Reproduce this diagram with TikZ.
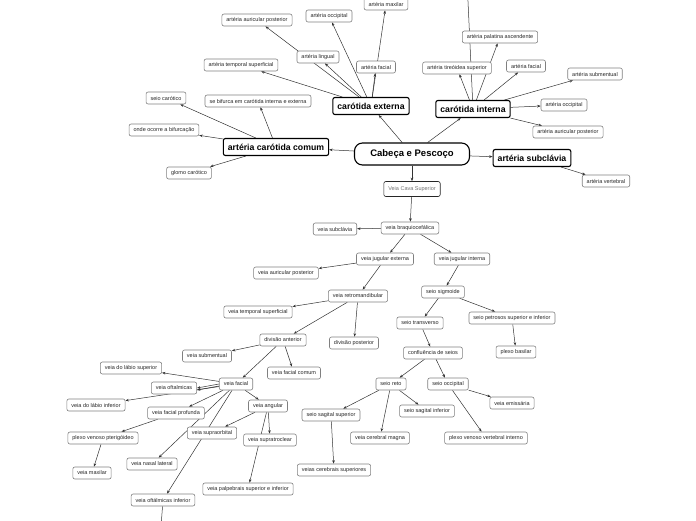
\documentclass[tikz,border=0pt]{standalone}
\usepackage{fontspec}
\setmainfont{Liberation Sans}
\usetikzlibrary{arrows.meta,backgrounds}
\begin{document}
\begin{tikzpicture}[x=1pt,y=-1pt,
  leaf/.style={draw=black!50, line width=0.6pt, rounded corners=2pt, fill=white, text=black!85,
    font=\fontsize{5.5}{6}\selectfont, inner xsep=4.5pt, inner ysep=0pt, minimum height=12pt},
  vcs/.style={leaf, draw=black!85, text=black!55, minimum height=15pt},
  branch/.style={draw=black, line width=1.1pt, rounded corners=2pt, fill=white,
    font=\bfseries\fontsize{8.7}{10}\selectfont, inner xsep=4.5pt, inner ysep=0pt, minimum height=17pt},
  root/.style={branch, rounded corners=8pt, font=\bfseries\fontsize{9.5}{12}\selectfont,
    minimum width=115pt, minimum height=22pt},
  link/.style={draw=black!80, line width=0.5pt, -{Stealth[length=3.5pt,width=2.6pt]}}]
  \useasboundingbox (0,0) rectangle (696,520);
  % main topics
  \node[root] (cab) at (412,154) {Cabeça e Pescoço};
  \node[branch] (ext) at (371,106) {carótida externa};
  \node[branch] (int) at (473,109) {carótida interna};
  \node[branch] (com) at (276,147) {artéria carótida comum};
  \node[branch] (sub) at (532,158) {artéria subclávia};
  % carotida externa
  \node[leaf] (emax) at (386,4) {artéria maxilar};
  \node[leaf] (eocc) at (329,16) {artéria occipital};
  \node[leaf] (eaur) at (257,20) {artéria auricular posterior};
  \node[leaf] (elin) at (318,57) {artéria lingual};
  \node[leaf] (efac) at (376,67) {artéria facial};
  \node[leaf] (etem) at (241,65) {artéria temporal superficial};
  % carotida interna
  \node[leaf] (ipal) at (500,37) {artéria palatina ascendente};
  \node[leaf] (itir) at (457,68) {artéria tireóidea superior};
  \node[leaf] (ifac) at (526,66) {artéria facial};
  \node[leaf] (isbm) at (595,74) {artéria submentual};
  \node[leaf] (iocc) at (564,105) {artéria occipital};
  \node[leaf] (iaur) at (568,132) {artéria auricular posterior};
  \coordinate (itop) at (467,-20);
  % carotida comum
  \node[leaf] (cseio) at (166,98) {seio carótico};
  \node[leaf] (cbif) at (258,101) {se bifurca em carótida interna e externa};
  \node[leaf] (conde) at (164,130) {onde ocorre a bifurcação};
  \node[leaf] (cglo) at (189,173) {glomo carótico};
  % subclavia
  \node[leaf] (svert) at (606,181) {artéria vertebral};
  % veias
  \node[vcs] (vcs) at (412,189) {Veia Cava Superior};
  \node[leaf] (vbra) at (410,228) {veia braquiocefálica};
  \node[leaf] (vsub) at (335,229) {veia subclávia};
  \node[leaf] (vjex) at (385,259) {veia jugular externa};
  \node[leaf] (vjin) at (462,259) {veia jugular interna};
  \node[leaf] (vaur) at (286,273) {veia auricular posterior};
  \node[leaf] (vret) at (358,296) {veia retromandibular};
  \node[leaf] (vtem) at (258,312) {veia temporal superficial};
  \node[leaf] (vdan) at (283,340) {divisão anterior};
  \node[leaf] (vdpo) at (354,343) {divisão posterior};
  \node[leaf] (vsbm) at (207,356) {veia submentual};
  \node[leaf] (vfco) at (294,373) {veia facial comum};
  \node[leaf] (vfac) at (236,384) {veia facial};
  \node[leaf] (vang) at (268,406) {veia angular};
  \node[leaf] (vlsu) at (131,368) {veia do lábio superior};
  \node[leaf] (voft) at (174,388) {veia oftalmicas};
  \node[leaf] (vlin) at (96,405) {veia do lábio inferior};
  \node[leaf] (vfpr) at (176,413) {veia facial profunda};
  \node[leaf] (vsor) at (212,433) {veia supraorbital};
  \node[leaf] (vstr) at (270,440) {veia supratroclear};
  \node[leaf] (vptr) at (103,438) {plexo venoso pterigóideo};
  \node[leaf] (vmax) at (92,473) {veia maxilar};
  \node[leaf] (vnas) at (152,464) {veia nasal lateral};
  \node[leaf] (vpal) at (248,489) {veia palpebrais superior e inferior};
  \node[leaf] (voin) at (163,500) {veia oftálmicas inferior};
  \coordinate (vbot) at (160,540);
  % seios
  \node[leaf] (ssig) at (443,292) {seio sigmoide};
  \node[leaf] (stra) at (420,323) {seio transverso};
  \node[leaf] (spet) at (512,318) {seio petrosos superior e inferior};
  \node[leaf] (sbas) at (516,352) {plexo basilar};
  \node[leaf] (scon) at (433,353) {confluência de seios};
  \node[leaf] (sret) at (391,384) {seio reto};
  \node[leaf] (socc) at (448,384) {seio occipital};
  \node[leaf] (semi) at (512,403) {veia emissária};
  \node[leaf] (ssin) at (427,411) {seio sagital inferior};
  \node[leaf] (sssu) at (331,415) {seio sagital superior};
  \node[leaf] (smag) at (380,438) {veia cerebral magna};
  \node[leaf] (sple) at (486,438) {plexo venoso vertebral interno};
  \node[leaf] (scer) at (334,470) {veias cerebrais superiores};
  % connectors
  \begin{pgfonlayer}{background}
    \draw[link] (cab) -- (ext);
    \draw[link] (cab) -- (int);
    \draw[link] (cab) -- (com);
    \draw[link] (cab) -- (sub);
    \draw[link] (cab) -- (vcs);
    \draw[link] (ext) -- (emax);
    \draw[link] (ext) -- (eocc);
    \draw[link] (ext) -- (eaur);
    \draw[link] (ext) -- (elin);
    \draw[link] (ext) -- (efac);
    \draw[link] (ext) -- (etem);
    \draw[link] (int) -- (ipal);
    \draw[link] (int) -- (itir);
    \draw[link] (int) -- (ifac);
    \draw[link] (int) -- (isbm);
    \draw[link] (int) -- (iocc);
    \draw[link] (int) -- (iaur);
    \draw[link] (int) -- (itop);
    \draw[link] (com) -- (cseio);
    \draw[link] (com) -- (cbif);
    \draw[link] (com) -- (conde);
    \draw[link] (com) -- (cglo);
    \draw[link] (sub) -- (svert);
    \draw[link] (vcs) -- (vbra);
    \draw[link] (vbra) -- (vsub);
    \draw[link] (vbra) -- (vjex);
    \draw[link] (vbra) -- (vjin);
    \draw[link] (vjex) -- (vaur);
    \draw[link] (vjex) -- (vret);
    \draw[link] (vret) -- (vtem);
    \draw[link] (vret) -- (vdan);
    \draw[link] (vret) -- (vdpo);
    \draw[link] (vdan) -- (vsbm);
    \draw[link] (vdan) -- (vfac);
    \draw[link] (vdan) -- (vfco);
    \draw[link] (vfac) -- (vlsu);
    \draw[link] (vfac.west) -- (voft.east);
    \draw[link] ([yshift=-2pt]vfac.west) -- ([yshift=-2pt]voft.east);
    \draw[link] (vfac) -- (vlin);
    \draw[link] (vfac) -- (vfpr);
    \draw[link] (vfac) -- (vang);
    \draw[link] (vfac) -- (vnas);
    \draw[link] (vfac) -- (voin);
    \draw[link] (vang) -- (vsor);
    \draw[link] (vang) -- (vstr);
    \draw[link] (vang) -- (vpal);
    \draw[link] (vfpr) -- (vptr);
    \draw[link] (vptr) -- (vmax);
    \draw[link] (voin) -- (vbot);
    \draw[link] (vjin) -- (ssig);
    \draw[link] (ssig) -- (stra);
    \draw[link] (ssig) -- (spet);
    \draw[link] (spet) -- (sbas);
    \draw[link] (stra) -- (scon);
    \draw[link] (scon) -- (sret);
    \draw[link] (scon) -- (socc);
    \draw[link] (sret) -- (sssu);
    \draw[link] (sret) -- (smag);
    \draw[link] (sret) -- (ssin);
    \draw[link] (socc) -- (semi);
    \draw[link] (socc) -- (sple);
    \draw[link] (sssu) -- (scer);
  \end{pgfonlayer}
\end{tikzpicture}
\end{document}
